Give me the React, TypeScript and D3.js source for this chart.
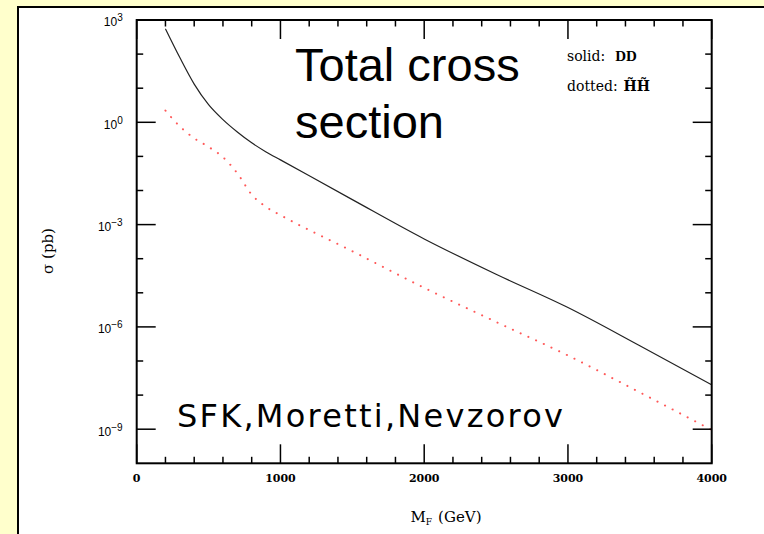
import React from 'react';
import * as d3 from 'd3';

// masses (GeV) and cross sections (pb)
const massGeV = [200, 300, 400, 500, 600, 700, 800, 900, 1000, 1500, 2000, 2500, 3000, 3500, 4000];
const sigmaDD = [550, 79, 13.2, 3.3, 1.2, 0.52, 0.25, 0.135, 0.079, 5.4e-3, 3.8e-4, 3.5e-5, 3.7e-6, 2.8e-7, 2.0e-8];
const sigmaHH = [2.2, 0.76, 0.34, 0.19, 0.095, 0.032, 7.6e-3, 3.3e-3, 1.9e-3, 1.66e-4, 1.4e-5, 1.4e-6, 1.45e-7, 1.2e-8, 9.5e-10];

const xTickValues = [0, 1000, 2000, 3000, 4000];
const yTickExponents = [3, 0, -3, -6, -9];

const W = 764, H = 534;
const margin = { left: 136.7, right: 711.7, top: 20, bottom: 463.3 };

export default function App() {
  const x = d3.scaleLinear().domain([0, 4000]).range([margin.left, margin.right]);
  const y = d3.scaleLog().domain([1e-10, 1e3]).range([margin.bottom, margin.top]);

  const line = d3.line<number>()
    .x((d, i) => x(massGeV[i]))
    .y(d => y(d))
    .curve(d3.curveMonotoneX);

  const majorLen = 19, minorLen = 6.5;

  // x minor ticks every 200 GeV, y minor every decade
  const xMinor = d3.range(200, 4000, 200).filter(v => v % 1000 !== 0);
  const yMinor = d3.range(-10, 4).filter(e => e % 3 !== 0 && e !== -10);

  const serif = "'DejaVu Serif', serif";
  const sans = "'Liberation Sans', Arial, sans-serif";

  return (
    <div style={{ position: 'fixed', left: 0, top: 0 }}>
      <svg width={W} height={H} style={{ display: 'block' }}>
        <rect x={0} y={0} width={W} height={H} fill="#ffffcc" />
        <rect x={18} y={7} width={W + 20} height={H + 20} fill="#ffffff" stroke="#000" strokeWidth={2} />

        {/* curves */}
        <path d={line(sigmaDD) || ''} fill="none" stroke="#222" strokeWidth={1.2} />
        <path d={line(sigmaHH) || ''} fill="none" stroke="#ff3b3b" strokeWidth={2}
          strokeDasharray="0.1 8.4" strokeLinecap="round" opacity={0.85} />

        {/* frame */}
        <rect x={margin.left} y={margin.top} width={margin.right - margin.left}
          height={margin.bottom - margin.top} fill="none" stroke="#000" strokeWidth={2} />

        {/* x ticks bottom and top, y ticks left and right */}
        <g stroke="#000" strokeWidth={1.5}>
          {xTickValues.map(v => (
            <g key={'xm' + v}>
              <line x1={x(v)} x2={x(v)} y1={margin.bottom} y2={margin.bottom - majorLen} />
              <line x1={x(v)} x2={x(v)} y1={margin.top} y2={margin.top + majorLen} />
            </g>
          ))}
          {xMinor.map(v => (
            <g key={'xn' + v}>
              <line x1={x(v)} x2={x(v)} y1={margin.bottom} y2={margin.bottom - minorLen} />
              <line x1={x(v)} x2={x(v)} y1={margin.top} y2={margin.top + minorLen} />
            </g>
          ))}
          {yTickExponents.map(e => (
            <g key={'ym' + e}>
              <line x1={margin.left} x2={margin.left + majorLen} y1={y(10 ** e)} y2={y(10 ** e)} />
              <line x1={margin.right} x2={margin.right - majorLen} y1={y(10 ** e)} y2={y(10 ** e)} />
            </g>
          ))}
          {yMinor.map(e => (
            <g key={'yn' + e}>
              <line x1={margin.left} x2={margin.left + minorLen} y1={y(10 ** e)} y2={y(10 ** e)} />
              <line x1={margin.right} x2={margin.right - minorLen} y1={y(10 ** e)} y2={y(10 ** e)} />
            </g>
          ))}
        </g>

        {/* x tick labels */}
        {xTickValues.map(v => (
          <text key={'xl' + v} x={x(v)} y={481.5} textAnchor="middle"
            fontFamily={serif} fontWeight="bold" fontSize={11}>{v}</text>
        ))}

        {/* y tick labels */}
        {yTickExponents.map(e => (
          <text key={'yl' + e} x={122.7} y={y(10 ** e) + 6.3} textAnchor="end"
            fontFamily={sans} fontSize={12}>
            10<tspan fontSize={10} dy={-5}>{e < 0 ? '\u2212' + Math.abs(e) : String(e)}</tspan>
          </text>
        ))}

        {/* axis titles */}
        <text x={446} y={521.5} textAnchor="middle" fontFamily={serif} fontSize={15}>
          M<tspan fontSize={9} dy={3}>F</tspan><tspan dy={-3} dx={6}>(GeV)</tspan>
        </text>
        <text transform="translate(53,251) rotate(-90)" textAnchor="middle"
          fontFamily={serif} fontSize={15}>σ (pb)</text>

        {/* annotations */}
        <text x={295} y={81} fontFamily={sans} fontSize={47}>Total cross</text>
        <text x={295} y={137.5} fontFamily={sans} fontSize={47}>section</text>
        <text x={177} y={427} fontFamily="'DejaVu Sans', sans-serif" fontSize={32}
          textLength={386} lengthAdjust="spacing">SFK,Moretti,Nevzorov</text>

        {/* legend */}
        <text x={567} y={61} fontFamily={serif} fontSize={14}>
          solid:<tspan dx={10} fontWeight="bold" fontFamily="'Liberation Serif', serif" fontSize={15}>DD</tspan>
        </text>
        <text x={567} y={91} fontFamily={serif} fontSize={14}>
          dotted:<tspan dx={6} fontWeight="bold" fontSize={14}>{'H\u0303H\u0303'}</tspan>
        </text>
      </svg>
    </div>
  );
}
